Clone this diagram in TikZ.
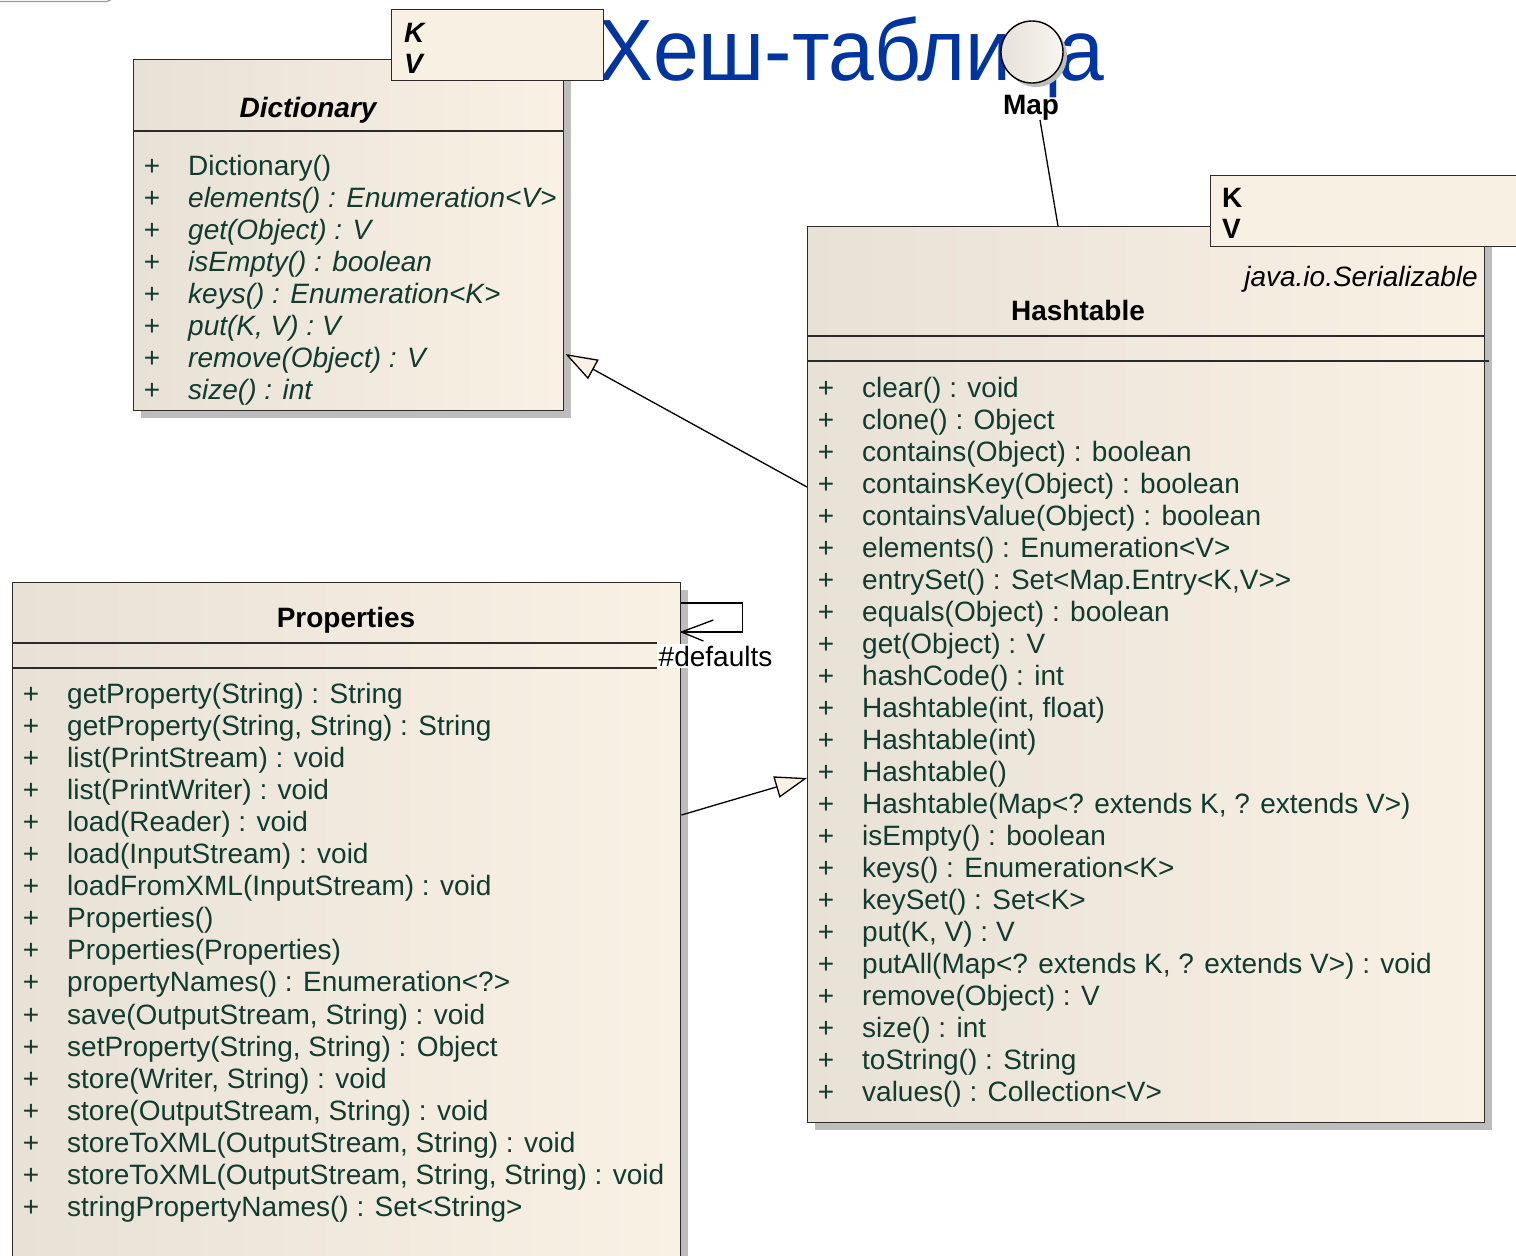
\documentclass[tikz,border=0pt]{standalone}
\usepackage{fontspec}
\usepackage{graphicx}
\setmainfont{Liberation Sans}
\usetikzlibrary{arrows.meta,shadows,calc}
\definecolor{txt}{HTML}{123B30}
\definecolor{boxl}{HTML}{E8E1D6}
\definecolor{boxr}{HTML}{F9F1E4}
\definecolor{tmplfill}{HTML}{F8F0E3}
\definecolor{shade}{HTML}{BDBDBD}
\definecolor{edge}{HTML}{2B2B2B}
\definecolor{titleblue}{HTML}{0035A0}
\definecolor{ifacel}{HTML}{E6E1D9}
\definecolor{ifacer}{HTML}{F8F5F0}

\begin{document}
\begin{tikzpicture}[x=1pt,y=-1pt,
  classbox/.style={draw=edge, line width=1.4pt, left color=boxl, right color=boxr,
    inner sep=0pt, anchor=north west,
    general shadow={fill=shade, shadow xshift=7pt, shadow yshift=-7pt}},
  tmplbox/.style={draw=edge, line width=1.4pt, fill=tmplfill, inner sep=0pt, anchor=north west},
  sep/.style={draw=edge, line width=1.4pt},
  meth/.style={anchor=base west, inner sep=0pt, text=txt, font=\fontsize{28}{32}\selectfont},
  plus/.style={anchor=base, inner sep=0pt, text=txt, font=\fontsize{28}{32}\selectfont},
  cname/.style={anchor=base, inner sep=0pt, font=\fontsize{28}{32}\selectfont\bfseries},
  tparam/.style={anchor=base west, inner sep=0pt, font=\fontsize{28}{32}\selectfont\bfseries},
  link/.style={draw=black, line width=1.3pt},
  gen/.style={link, -{Triangle[length=32pt,width=22pt,fill=boxr,line width=1.3pt]}},
]
\useasboundingbox (0,0) rectangle (1516,1256);
\clip (0,0) rectangle (1516,1256);

% corner of a frame above the page
\draw[draw=gray!80, line width=1.3pt] (0,1.5) -- (107,1.5) to[out=0,in=-90] (112,-4);

% heading
\node[anchor=base west, inner sep=0pt, text=titleblue, font=\fontsize{87}{90}\selectfont]
  (title) at (598,80) {\scalebox{0.945}[1]{Хеш-таблица}};

% ---------- Dictionary ----------
\node[classbox, minimum width=430pt, minimum height=351pt] (dict) at (133,59) {};
\draw[sep] ([yshift=-72pt]dict.north west) -- ([yshift=-72pt]dict.north east);
\node[tmplbox, minimum width=212pt, minimum height=71pt] (dictT) at (391,9) {};
\node[tparam, font=\fontsize{28}{32}\selectfont\bfseries\itshape] (dictK) at (404,42) {K};
\node[tparam, font=\fontsize{28}{32}\selectfont\bfseries\itshape] (dictV) at (404,73) {V};
\node[cname, font=\fontsize{28}{32}\selectfont\bfseries\itshape] (dictN) at (308,117) {Dictionary};
\node[plus] (dp0) at (152,175) {+};
\node[meth] (dm0) at (188,175) {Dictionary()};
\foreach \t [count=\i from 1] in {{elements() : Enumeration<V>},{get(Object) : V},
  {isEmpty() : boolean},{keys() : Enumeration<K>},{put(K, V) : V},
  {remove(Object) : V},{size() : int}}{
  \node[plus] (dp\i) at (152,{175+32*\i}) {+};
  \node[meth, font=\fontsize{28}{32}\selectfont\itshape] (dm\i) at (188,{175+32*\i}) {\t};
}

% ---------- Map interface ----------
\node[circle, draw=black, line width=1.4pt, minimum size=62pt, inner sep=0pt,
  left color=ifacel, right color=ifacer,
  general shadow={fill=shade, shadow xshift=4pt, shadow yshift=-4pt}] (map) at (1032,52) {};
\node[cname] (mapN) at (1031,114) {Map};

% ---------- Hashtable ----------
\node[classbox, minimum width=677pt, minimum height=896pt] (hash) at (807,226) {};
\node[tmplbox, minimum width=320pt, minimum height=71pt] (hashT) at (1210,175) {};
\node[tparam] (hashK) at (1222,207) {K};
\node[tparam] (hashV) at (1222,238) {V};
\node[anchor=base east, inner sep=0pt, font=\fontsize{28}{32}\selectfont\itshape]
  (hashS) at (1478,286) {java.io.Serializable};
\node[cname] (hashN) at (1078,320) {Hashtable};
\draw[sep] ([yshift=-110pt]hash.north west) -- ([yshift=-110pt]hash.north east);
\draw[sep] ([yshift=-135pt]hash.north west) -- ([yshift=-135pt,xshift=4pt]hash.north east);
\foreach \t [count=\i from 0] in {{clear() : void},{clone() : Object},
  {contains(Object) : boolean},{containsKey(Object) : boolean},
  {containsValue(Object) : boolean},{elements() : Enumeration<V>},
  {entrySet() : Set<Map.Entry<K,V>{}>},{equals(Object) : boolean},
  {get(Object) : V},{hashCode() : int},{Hashtable(int, float)},
  {Hashtable(int)},{Hashtable()},{Hashtable(Map<? extends K, ? extends V>)},
  {isEmpty() : boolean},{keys() : Enumeration<K>},{keySet() : Set<K>},
  {put(K, V) : V},{putAll(Map<? extends K, ? extends V>) : void},
  {remove(Object) : V},{size() : int},{toString() : String},
  {values() : Collection<V>}}{
  \node[plus] (hp\i) at (826,{397+32*\i}) {+};
  \node[meth] (hm\i) at (862,{397+32*\i}) {\t};
}

% ---------- Properties ----------
\node[classbox, minimum width=668pt, minimum height=720pt] (props) at (12,582) {};
\draw[sep] ([yshift=-61pt]props.north west) -- ([yshift=-61pt,xshift=-24pt]props.north east);
\draw[sep] ([yshift=-86pt]props.north west) -- ([yshift=-86pt,xshift=-24pt]props.north east);
\node[cname] (propsN) at (346,627) {Properties};
\foreach \t [count=\i from 0] in {{getProperty(String) : String},
  {getProperty(String, String) : String},{list(PrintStream) : void},
  {list(PrintWriter) : void},{load(Reader) : void},{load(InputStream) : void},
  {loadFromXML(InputStream) : void},{Properties()},{Properties(Properties)},
  {propertyNames() : Enumeration<?>},{save(OutputStream, String) : void},
  {setProperty(String, String) : Object},{store(Writer, String) : void},
  {store(OutputStream, String) : void},{storeToXML(OutputStream, String) : void},
  {storeToXML(OutputStream, String, String) : void},
  {stringPropertyNames() : Set<String>}}{
  \node[plus] (pp\i) at (31,{703+32.1*\i}) {+};
  \node[meth] (pm\i) at (67,{703+32.1*\i}) {\t};
}

% self association "defaults"
\coordinate (loopA) at ([yshift=-21pt]props.north east);
\coordinate (loopB) at ([yshift=-50pt]props.north east);
\draw[link] (loopA) -- ++(61,0) -- ++(0,29) -- (loopB);
\draw[link] (loopB) -- ++(32,-12);
\draw[link] (loopB) -- ++(22,9);
\node[anchor=base west, fill=white, inner sep=1.5pt, font=\fontsize{28}{32}\selectfont]
  (defl) at (657,666) {\#defaults};

% ---------- connectors ----------
\draw[link] ([xshift=9pt]mapN.south) -- ($(hash.north west)+(251,0)$);
\draw[gen] ($(hash.north west)+(0,261)$) -- ($(dict.north east)+(1,295)$);
\draw[gen] ($(props.north east)+(0,233)$) -- ($(hash.north west)+(0,552)$);
\end{tikzpicture}
\end{document}
